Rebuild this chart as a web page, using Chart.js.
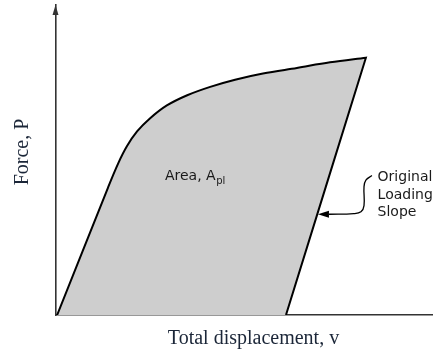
<!DOCTYPE html>
<html>
<head>
<meta charset="utf-8">
<script src="https://cdn.jsdelivr.net/npm/chart.js@4"></script>
<style>
  html, body { margin: 0; padding: 0; background: #ffffff; }
  #wrap { width: 433px; height: 349px; }
</style>
</head>
<body>
<div id="wrap"><canvas id="chart" width="433" height="349"></canvas></div>
<script>
// Loading path (force vs. total displacement), arbitrary units
const loadDisplacement = [0.3, 13.8, 16.5, 18.8, 21.5, 24.9, 29.4, 34.8, 40.9, 47.5, 54.9, 63.9, 72.7, 82.2];
const loadForce        = [0.0, 41.1, 48.9, 54.4, 59.2, 63.4, 67.6, 70.9, 73.6, 75.9, 77.9, 79.7, 81.5, 83.0];
// Elastic unloading along the original loading slope
const unloadDisplacement = [82.2, 61.0];
const unloadForce        = [83.0, 0.0];
// Leader from the "Original Loading Slope" note to the unloading line
const leaderX = [83.8, 82.2, 81.7, 81.7, 80.9, 79.0, 72.4];
const leaderY = [45.0, 43.5, 41.4, 35.3, 33.3, 32.7, 32.5];

const axisTitleX = 'Total displacement, v';
const axisTitleY = 'Force, P';
const areaLabel = 'Area, A';
const areaSub = 'pl';
const noteLines = ['Original', 'Loading', 'Slope'];

const toPoints = (xs, ys) => xs.map((v, i) => ({ x: v, y: ys[i] }));
const cyclePoints = toPoints(loadDisplacement, loadForce).concat(toPoints(unloadDisplacement, unloadForce));
const leaderPoints = toPoints(leaderX, leaderY);

const AXIS_COLOR = '#333333';
const TITLE_COLOR = '#1b2638';
const TEXT_COLOR = '#1a1a1a';

// Arrowheads, labels and axis titles
const annotations = {
  id: 'annotations',
  afterDatasetsDraw(chart) {
    const { ctx, chartArea, scales: { x, y } } = chart;
    ctx.save();

    // arrowhead on the force axis
    const ax = x.getPixelForValue(0) - 0.5;
    const at = chartArea.top;
    ctx.fillStyle = AXIS_COLOR;
    ctx.beginPath();
    ctx.moveTo(ax, at);
    ctx.lineTo(ax - 3, at + 10);
    ctx.lineTo(ax + 3, at + 10);
    ctx.closePath();
    ctx.fill();

    // arrowhead at the end of the leader
    const lx = x.getPixelForValue(leaderX[leaderX.length - 1]);
    const ly = y.getPixelForValue(leaderY[leaderY.length - 1]);
    ctx.fillStyle = '#000000';
    ctx.beginPath();
    ctx.moveTo(lx - 11, ly);
    ctx.lineTo(lx, ly - 3.5);
    ctx.lineTo(lx, ly + 3.5);
    ctx.closePath();
    ctx.fill();

    // area label with subscript
    ctx.fillStyle = TEXT_COLOR;
    ctx.textBaseline = 'alphabetic';
    ctx.textAlign = 'left';
    ctx.font = '14px "DejaVu Sans"';
    const alx = x.getPixelForValue(28.9);
    const aly = y.getPixelForValue(43.5);
    ctx.fillText(areaLabel, alx, aly);
    const w = ctx.measureText(areaLabel).width;
    ctx.font = '10px "DejaVu Sans"';
    ctx.fillText(areaSub, alx + w + 0.5, aly + 4);

    // note next to the unloading line
    ctx.font = '14px "DejaVu Sans"';
    const nx = x.getPixelForValue(85.3);
    const ny = y.getPixelForValue(43.2);
    noteLines.forEach((t, i) => ctx.fillText(t, nx, ny + i * 17.6));

    // axis titles
    ctx.fillStyle = TITLE_COLOR;
    ctx.font = '20px "Liberation Serif"';
    ctx.textAlign = 'center';
    ctx.fillText(axisTitleX, 253.5, chartArea.bottom + 29);

    ctx.translate(28, 152);
    ctx.rotate(-Math.PI / 2);
    ctx.fillText(axisTitleY, 0, 0);

    ctx.restore();
  }
};

new Chart(document.getElementById('chart'), {
  type: 'scatter',
  data: {
    datasets: [
      {
        data: cyclePoints,
        showLine: true,
        tension: 0.35,
        borderColor: '#000000',
        borderWidth: 2,
        backgroundColor: '#cecece',
        fill: 'shape',
        pointRadius: 0,
        order: 2
      },
      {
        data: leaderPoints,
        showLine: true,
        tension: 0.4,
        borderColor: '#000000',
        borderWidth: 1.3,
        fill: false,
        pointRadius: 0,
        order: 1
      }
    ]
  },
  options: {
    responsive: false,
    animation: false,
    devicePixelRatio: 1,
    layout: { padding: { left: 48, right: 0, top: 5, bottom: 26 } },
    plugins: {
      legend: { display: false },
      tooltip: { enabled: false }
    },
    scales: {
      x: {
        type: 'linear',
        min: 0,
        max: 100,
        grid: { display: false },
        ticks: { display: false },
        border: { display: true, color: AXIS_COLOR, width: 1.6 }
      },
      y: {
        type: 'linear',
        min: 0,
        max: 100,
        grid: { display: false },
        ticks: { display: false },
        border: { display: true, color: AXIS_COLOR, width: 1.6 }
      }
    }
  },
  plugins: [annotations]
});
</script>
</body>
</html>
